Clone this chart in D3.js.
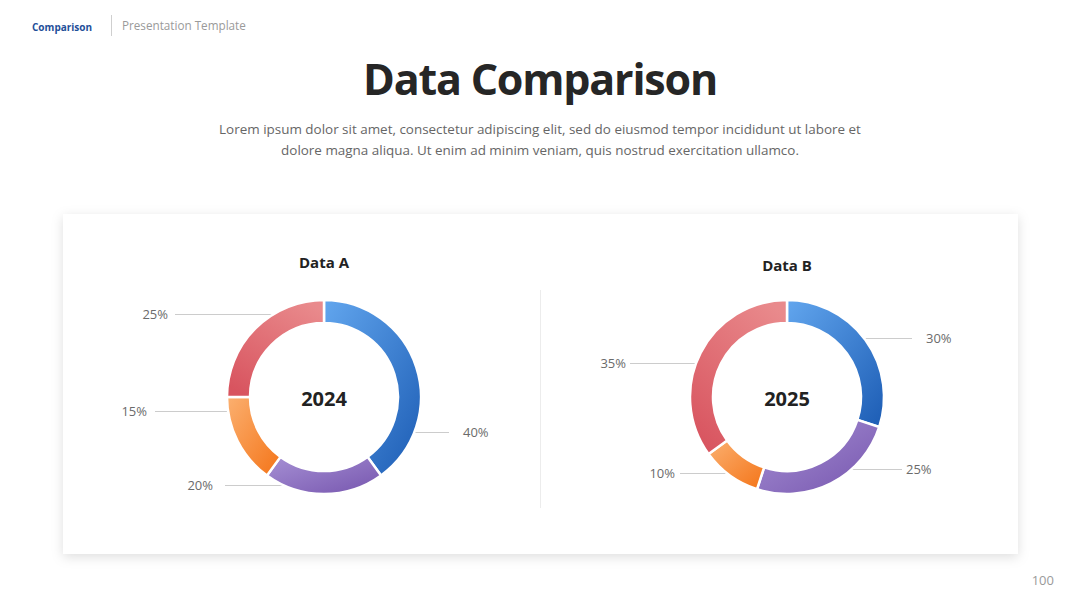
<!DOCTYPE html>
<html>
<head>
<meta charset="utf-8">
<script src="https://cdn.jsdelivr.net/npm/d3@7/dist/d3.min.js"></script>
<style>
  html, body { margin: 0; padding: 0; background: #ffffff; }
  svg { display: block; font-family: "Open Sans", "Noto Sans", sans-serif; }
</style>
</head>
<body>
<svg id="chart" width="1080" height="608"></svg>
<script>
// ---------- data ----------
const headerSection = "Comparison";
const headerTemplate = "Presentation Template";
const pageTitle = "Data Comparison";
const subtitleLines = [
  "Lorem ipsum dolor sit amet, consectetur adipiscing elit, sed do eiusmod tempor incididunt ut labore et",
  "dolore magna aliqua. Ut enim ad minim veniam, quis nostrud exercitation ullamco."
];
const pageNumber = "100";
const chartTitles = ["Data A", "Data B"];
const centerLabels = ["2024", "2025"];
const sliceKeys = ["blue", "purple", "orange", "red"];
const valuesA = [40, 20, 15, 25];
const valuesB = [30, 25, 10, 35];

// ---------- layout (not data) ----------
const labelDyA = [35, 88, 14, -83];
const lineDxA = [125, -99, -169, -149];
const textDxA = [139, -111, -177, -156];
const labelDyB = [-59, 72, 76, -34];
const lineDxB = [125, 115, -107, -157];
const textDxB = [139, 119, -112, -161];

const colors = {
  blue:   ["#62a6ee", "#1c5cb4"],
  purple: ["#a690d4", "#7655ae"],
  orange: ["#fbb070", "#f47418"],
  red:    ["#e98a8c", "#d8545f"]
};
const gradDir = {
  blue:   [0, 0, 1, 1],
  purple: [0, 0, 1, 1],
  orange: [0, 0, 1, 1],
  red:    [0.8, 0, 0.2, 1]
};

const svg = d3.select("#chart");
const defs = svg.append("defs");

// shadow filter
const f = defs.append("filter").attr("id", "shadow")
  .attr("x", "-10%").attr("y", "-10%").attr("width", "120%").attr("height", "130%");
f.append("feDropShadow").attr("dx", 0).attr("dy", 3).attr("stdDeviation", 6)
  .attr("flood-color", "#000").attr("flood-opacity", 0.13);

// gradients
sliceKeys.forEach(k => {
  const g = defs.append("linearGradient").attr("id", "grad-" + k)
    .attr("x1", gradDir[k][0]).attr("y1", gradDir[k][1])
    .attr("x2", gradDir[k][2]).attr("y2", gradDir[k][3]);
  g.append("stop").attr("offset", "0%").attr("stop-color", colors[k][0]);
  g.append("stop").attr("offset", "100%").attr("stop-color", colors[k][1]);
});

// ---------- header ----------
svg.append("text").attr("x", 32).attr("y", 31)
  .attr("font-size", 10).attr("font-weight", 700).attr("fill", "#1f4f99")
  .text(headerSection);
svg.append("line").attr("x1", 111.5).attr("x2", 111.5).attr("y1", 15).attr("y2", 36)
  .attr("stroke", "#cfcfcf").attr("stroke-width", 1);
svg.append("text").attr("x", 122).attr("y", 30)
  .attr("font-size", 11.7).attr("fill", "#9a9a9a")
  .text(headerTemplate);

// title
svg.append("text").attr("x", 540).attr("y", 95).attr("text-anchor", "middle")
  .attr("font-size", 43).attr("font-weight", 700).attr("fill", "#262626")
  .attr("letter-spacing", -1.2)
  .text(pageTitle);

// subtitle
svg.selectAll("text.sub").data(subtitleLines).enter().append("text")
  .attr("class", "sub")
  .attr("x", 540).attr("y", (d, i) => 134 + i * 21)
  .attr("text-anchor", "middle").attr("font-size", 13.45).attr("fill", "#666666")
  .text(d => d);

// page number
svg.append("text").attr("x", 1054).attr("y", 585).attr("text-anchor", "end")
  .attr("font-size", 13).attr("fill", "#9a9a9a").text(pageNumber);

// card
svg.append("rect").attr("x", 63).attr("y", 214).attr("width", 955).attr("height", 340)
  .attr("fill", "#ffffff").attr("filter", "url(#shadow)");
svg.append("line").attr("x1", 540.5).attr("x2", 540.5).attr("y1", 290).attr("y2", 508)
  .attr("stroke", "#ececec").attr("stroke-width", 1);

// ---------- donuts ----------
const R = 97, r = 74, midR = (R + r) / 2;
const pie = d3.pie().sort(null).value(d => d);
const arc = d3.arc().innerRadius(r).outerRadius(R);
const pct = d3.format(".0%");

const charts = [
  { cx: 324, cy: 397, titleY: 268, values: valuesA, dy: labelDyA, lineDx: lineDxA, textDx: textDxA },
  { cx: 787, cy: 397, titleY: 271, values: valuesB, dy: labelDyB, lineDx: lineDxB, textDx: textDxB }
];

charts.forEach((c, ci) => {
  const g = svg.append("g").attr("transform", `translate(${c.cx},${c.cy})`);
  svg.append("text").attr("x", c.cx).attr("y", c.titleY).attr("text-anchor", "middle")
    .attr("font-size", 15).attr("font-weight", 700).attr("fill", "#222")
    .text(chartTitles[ci]);

  const total = d3.sum(c.values);
  const arcs = pie(c.values);

  // leader lines (drawn beneath the ring)
  arcs.forEach((a, i) => {
    const dy = c.dy[i];
    const side = Math.sign(c.lineDx[i]);
    const rr = Math.abs(dy) < midR ? midR : R;
    const ax = side * Math.sqrt(Math.max(0, rr * rr - dy * dy));
    g.append("line")
      .attr("x1", c.lineDx[i]).attr("x2", ax)
      .attr("y1", dy + 0.5).attr("y2", dy + 0.5)
      .attr("stroke", "#cccccc").attr("stroke-width", 1);
    g.append("text")
      .attr("x", c.textDx[i]).attr("y", dy + 5)
      .attr("text-anchor", side > 0 ? "start" : "end")
      .attr("font-size", 13).attr("fill", "#6b6b6b")
      .text(pct(a.data / total));
  });

  g.selectAll("path.slice").data(arcs).enter().append("path")
    .attr("class", "slice")
    .attr("d", arc)
    .attr("fill", (d, i) => `url(#grad-${sliceKeys[i]})`)
    .attr("stroke", "#ffffff").attr("stroke-width", 2.5);

  g.append("text").attr("x", 0).attr("y", 9).attr("text-anchor", "middle")
    .attr("font-size", 20).attr("font-weight", 700).attr("fill", "#222")
    .text(centerLabels[ci]);
});
</script>
</body>
</html>
